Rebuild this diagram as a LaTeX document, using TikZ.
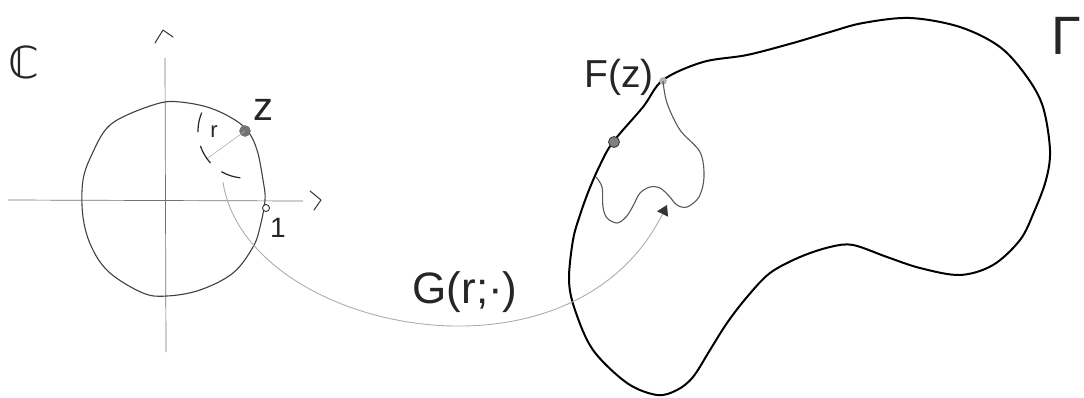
\documentclass[tikz,border=0pt]{standalone}
\usepackage{fontspec}
\setmainfont{Liberation Sans}
\newfontfamily\dvfont{DejaVu Sans}
\usetikzlibrary{arrows.meta}
\definecolor{axisgray}{gray}{0.45}
\definecolor{lightgray}{gray}{0.68}
\definecolor{midgray}{gray}{0.35}
\tikzset{
  axis/.style={draw=axisgray, line width=0.7pt},
  axtip/.style={draw=black!80, line width=1pt, line cap=round, line join=round},
  disk/.style={draw=black!75, line width=1.1pt},
  blob/.style={draw=black, line width=2pt},
  innercurve/.style={draw=midgray, line width=1.1pt},
  mapcurve/.style={draw=lightgray, line width=0.9pt},
  radline/.style={draw=lightgray, line width=0.6pt},
  dashedarc/.style={draw=black!85, line width=1.2pt, dash pattern=on 20pt off 14pt},
  lbl/.style={inner sep=0pt, text=black!85},
}
\begin{document}
\begin{tikzpicture}[x=1pt,y=-1pt]
\useasboundingbox (0,0) rectangle (1084,397);
% ---------- left: the complex plane ----------
\node[lbl] (C) at (24,62) {\dvfont\fontsize{44}{44}\selectfont ℂ};
% axes
\coordinate (yb) at (166,352);
\coordinate (yt) at (165,58);
\coordinate (xl) at (8,200);
\coordinate (xr) at (303,201);
\draw[axis] (yb) -- (yt);
\draw[axis] (xl) -- (xr);
\draw[axtip] (155,43) -- (163,30) -- (173,37);
\draw[axtip] (310,191) -- (321,200) -- (314,210);
% unit disk (hand drawn)
\draw[disk] plot[smooth cycle, tension=0.6] coordinates {
 (180,102) (207,107) (230,117) (247,130) (257,150) (263,180) (265,200)
 (260,227) (253,247) (233,273) (200,290) (167,296) (143,293) (110,273)
 (92,248) (83,217) (83,180) (93,152) (107,128) (127,115) (160,103)};
% point z and the dashed circle of radius r
\node[circle, fill=black!55, draw=black!60, inner sep=0pt, minimum width=8pt, minimum height=11pt] (z) at (245,131) {};
\node[lbl] (zl) at (263,110) {\fontsize{40}{40}\selectfont z};
\coordinate (rend) at (208,158);
\draw[radline] (z.center) -- (rend);
\node[lbl] (rl) at (214,132) {\fontsize{22}{22}\selectfont r};
\draw[dashedarc] (z.center) ++(203:47) arc[start angle=203, end angle=84, radius=47];
% point 1
\node[circle, draw=black!80, fill=white, line width=0.9pt, inner sep=0pt, minimum size=7pt] (one) at (266,208) {};
\node[lbl] (onel) at (278,228) {\fontsize{28}{28}\selectfont 1};
% ---------- right: the domain Gamma ----------
\draw[blob] plot[smooth cycle, tension=0.55] coordinates {
 (663,80) (703,62) (747,55) (793,43) (830,32) (863,23) (910,18) (960,27)
 (1000,47) (1027,77) (1043,107) (1050,150) (1046,180) (1034,212) (1020,240)
 (993,265) (960,275) (920,268) (887,257) (853,245) (830,247) (800,257)
 (770,273) (747,297) (727,323) (710,350) (693,377) (677,390) (657,395)
 (627,383) (593,350) (575,310) (569,280) (573,240) (580,215) (589,190)
 (600,165) (613,142) (643,107)};
\node[lbl] (Gamma) at (1066,36) {\fontsize{54}{54}\selectfont Γ};
\node[circle, fill=black!30, draw=black!35, inner sep=0pt, minimum width=5pt, minimum height=7pt] (Fz) at (663,81) {};
\node[lbl] (Fzl) at (619,77) {\fontsize{39}{39}\selectfont F(z)};
\node[circle, fill=black!50, draw=black!80, line width=0.8pt, inner sep=0pt, minimum width=10pt, minimum height=11pt] (w) at (614,142) {};
% inner curve
\coordinate (innerend) at (596,177);
\draw[innercurve] plot[smooth, tension=0.55] coordinates {
 (Fz.center) (667,103) (680,130) (700,152) (704,177) (699,197) (687,207)
 (677,205) (669,196) (660,188) (650,187) (640,193) (633,206) (626,217)
 (617,223) (607,218) (603,207) (602,187) (innerend)};
% ---------- the map G(r; .) ----------
\coordinate (gstart) at (223,182);
\coordinate (gend) at (667,205);
\draw[mapcurve, -{Stealth[length=10pt, width=12pt, inset=0pt, color=black!80]}]
  (gstart) .. controls (245,330) and (570,400) .. (gend);
\node[lbl] (Gl) at (465,292) {\fontsize{44}{44}\selectfont G(r;·)};
\end{tikzpicture}
\end{document}
